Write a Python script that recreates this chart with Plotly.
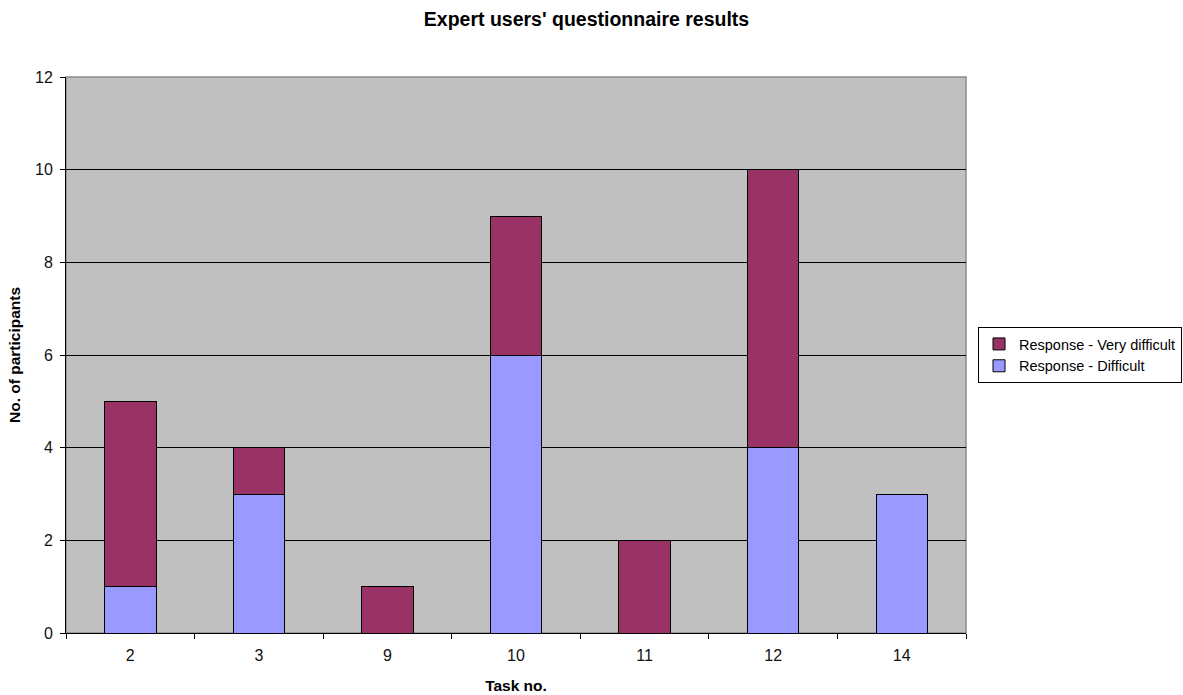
import plotly.graph_objects as go

# Task numbers and response counts
tasks = ["2", "3", "9", "10", "11", "12", "14"]
difficult = [1, 3, 0, 6, 0, 4, 3]
very_difficult = [4, 1, 1, 3, 2, 6, 0]

font_family = "Arial, 'Liberation Sans', sans-serif"

fig = go.Figure()
fig.add_trace(go.Bar(
    x=tasks, y=difficult, name="Response - Difficult",
    marker=dict(color="#9999FF", line=dict(color="#000000", width=1)),
))
fig.add_trace(go.Bar(
    x=tasks, y=very_difficult, name="Response - Very difficult",
    marker=dict(color="#993366", line=dict(color="#000000", width=1)),
))

# gray frame around the plot area (left/bottom covered by the axis lines)
fig.add_shape(
    type="rect", xref="paper", yref="paper", x0=0, x1=1, y0=0, y1=1,
    line=dict(color="#8A8A8A", width=1.5), layer="below",
)

fig.update_layout(
    width=1183, height=695,
    margin=dict(l=66, r=217, t=77, b=62, autoexpand=False),
    paper_bgcolor="white",
    plot_bgcolor="#C0C0C0",
    barmode="stack",
    bargap=0.6,
    font=dict(family=font_family, size=16, color="#000000"),
    title=dict(
        text="<b>Expert users' questionnaire results</b>",
        xref="container", x=586.5 / 1183, xanchor="center",
        y=0.973, yanchor="middle",
        font=dict(size=19.5, color="#000000"),
    ),
    legend=dict(
        x=(978 - 66) / 900, xanchor="left", y=0.5, yanchor="middle",
        traceorder="reversed",
        bordercolor="#000000", borderwidth=1,
        bgcolor="white",
        font=dict(size=14.5),
        itemwidth=30,
        tracegroupgap=0,
    ),
    xaxis=dict(
        type="category",
        showline=True, linecolor="#000000", linewidth=1,
        ticks="outside", ticklen=5, tickcolor="#000000",
        tickson="boundaries",
        ticklabelstandoff=8,
        showgrid=False,
        tickfont=dict(size=16, color="#111111"),
        title=dict(text="<b>Task no.</b>", font=dict(size=15.5), standoff=16),
    ),
    yaxis=dict(
        range=[0, 12],
        dtick=2,
        showline=True, linecolor="#000000", linewidth=1,
        ticks="outside", ticklen=5, tickcolor="#000000",
        ticklabelstandoff=4,
        showgrid=True, gridcolor="#000000", gridwidth=1,
        zeroline=False,
        tickfont=dict(size=16, color="#111111"),
        title=dict(text="<b>No. of participants</b>", font=dict(size=15.5), standoff=10),
    ),
)

fig.write_html("out.html")
